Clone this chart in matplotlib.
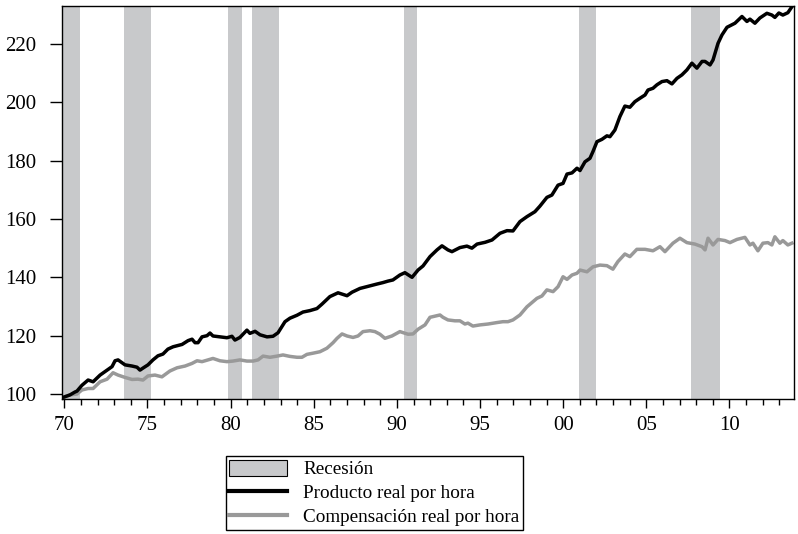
import matplotlib
matplotlib.use("Agg")
import matplotlib.pyplot as plt
from matplotlib.patches import Patch
from matplotlib.lines import Line2D
from matplotlib.ticker import FixedLocator, MultipleLocator

plt.rcParams['font.family'] = ['Liberation Serif', 'DejaVu Serif']

# Recession periods (start, end) in decimal years
rec_start = [1969.86, 1973.60, 1979.86, 1981.30, 1990.40, 2000.97, 2007.66]
rec_end   = [1970.94, 1975.20, 1980.70, 1982.90, 1991.20, 2002.00, 2009.45]

# Producto real por hora
prod_year = [1970.00, 1970.34, 1970.64, 1970.76, 1971.06, 1971.43, 1971.73, 1972.15, 1972.57, 1972.87,
             1973.05, 1973.23, 1973.65, 1974.07, 1974.37, 1974.55, 1974.73, 1975.03, 1975.33, 1975.63,
             1975.93, 1976.23, 1976.54, 1977.08, 1977.44, 1977.68, 1977.86, 1978.04, 1978.28, 1978.58,
             1978.76, 1978.94, 1979.36, 1979.78, 1980.08, 1980.26, 1980.56, 1980.98, 1981.16, 1981.47,
             1981.77, 1982.19, 1982.55, 1982.85, 1983.27, 1983.57, 1983.99, 1984.35, 1984.77, 1985.19,
             1985.49, 1985.97, 1986.46, 1987.00, 1987.30, 1987.78, 1988.38, 1988.80, 1989.16, 1989.46,
             1989.76, 1990.18, 1990.48, 1990.91, 1991.27, 1991.57, 1991.99, 1992.41, 1992.71, 1993.07,
             1993.31, 1993.79, 1994.21, 1994.51, 1994.82, 1995.30, 1995.72, 1996.20, 1996.62, 1996.98,
             1997.40, 1997.82, 1998.30, 1998.60, 1999.02, 1999.32, 1999.69, 1999.99, 2000.23, 2000.53,
             2000.83, 2001.01, 2001.31, 2001.61, 2001.79, 2002.03, 2002.33, 2002.63, 2002.81, 2003.11,
             2003.41, 2003.71, 2004.01, 2004.31, 2004.62, 2004.92, 2005.10, 2005.40, 2005.64, 2005.94,
             2006.24, 2006.54, 2006.84, 2007.14, 2007.44, 2007.74, 2008.04, 2008.35, 2008.53, 2008.83,
             2009.01, 2009.31, 2009.55, 2009.85, 2010.33, 2010.75, 2011.05, 2011.23, 2011.53, 2011.83,
             2012.25, 2012.55, 2012.73, 2012.97, 2013.21, 2013.51, 2013.75]
prod_val = [99.0, 99.7, 100.7, 101.0, 103.0, 104.8, 104.2, 106.5, 108.2, 109.4,
            111.4, 111.7, 110.0, 109.6, 109.2, 108.2, 108.9, 110.0, 111.7, 113.1,
            113.7, 115.4, 116.2, 117.0, 118.3, 118.8, 117.6, 117.6, 119.6, 120.0,
            120.9, 119.9, 119.6, 119.3, 119.8, 118.5, 119.4, 121.9, 120.8, 121.5,
            120.3, 119.6, 119.8, 121.0, 124.8, 126.0, 127.0, 128.1, 128.6, 129.3,
            130.8, 133.4, 134.7, 133.7, 134.9, 136.2, 137.1, 137.7, 138.2, 138.7,
            139.1, 140.8, 141.6, 140.0, 142.5, 143.9, 147.1, 149.4, 150.8, 149.4,
            148.8, 150.2, 150.7, 150.0, 151.4, 152.0, 152.8, 155.1, 156.0, 155.9,
            159.1, 160.8, 162.5, 164.4, 167.4, 168.2, 171.6, 172.2, 175.4, 175.8,
            177.4, 176.6, 179.6, 180.8, 183.1, 186.5, 187.3, 188.5, 188.2, 190.5,
            195.1, 198.7, 198.3, 200.2, 201.4, 202.5, 204.2, 204.8, 206.0, 207.1,
            207.4, 206.3, 208.2, 209.4, 211.1, 213.4, 211.7, 214.0, 214.0, 212.8,
            214.5, 220.2, 223.1, 225.7, 227.1, 229.4, 227.7, 228.5, 227.1, 228.9,
            230.5, 229.9, 229.1, 230.6, 229.9, 230.7, 232.7]

# Compensacion real por hora
comp_year = [1970.04, 1970.34, 1970.76, 1971.06, 1971.43, 1971.73, 1972.15, 1972.57, 1972.93, 1973.23,
             1973.65, 1974.07, 1974.43, 1974.73, 1975.03, 1975.45, 1975.87, 1976.35, 1976.78, 1977.26,
             1977.68, 1977.98, 1978.28, 1978.64, 1978.94, 1979.36, 1979.78, 1980.14, 1980.56, 1980.98,
             1981.35, 1981.65, 1981.95, 1982.37, 1982.79, 1983.15, 1983.57, 1983.99, 1984.29, 1984.59,
             1984.95, 1985.37, 1985.79, 1986.16, 1986.40, 1986.70, 1987.00, 1987.36, 1987.66, 1987.96,
             1988.38, 1988.68, 1988.98, 1989.28, 1989.70, 1990.18, 1990.67, 1990.97, 1991.27, 1991.69,
             1991.99, 1992.29, 1992.59, 1992.77, 1993.07, 1993.49, 1993.79, 1994.09, 1994.27, 1994.57,
             1995.00, 1995.48, 1996.02, 1996.38, 1996.68, 1996.98, 1997.40, 1997.82, 1998.42, 1998.72,
             1999.02, 1999.39, 1999.69, 1999.99, 2000.23, 2000.53, 2000.83, 2001.01, 2001.43, 2001.79,
             2002.21, 2002.63, 2002.99, 2003.29, 2003.71, 2004.01, 2004.43, 2004.92, 2005.40, 2005.82,
             2006.12, 2006.60, 2007.02, 2007.44, 2007.92, 2008.35, 2008.53, 2008.71, 2009.01, 2009.31,
             2009.73, 2010.03, 2010.45, 2010.93, 2011.23, 2011.41, 2011.71, 2012.01, 2012.31, 2012.55,
             2012.73, 2013.03, 2013.21, 2013.51, 2013.75]
comp_val = [99.1, 99.7, 100.0, 101.4, 101.9, 101.9, 104.2, 105.1, 107.3, 106.5,
            105.7, 105.0, 105.1, 104.8, 106.2, 106.5, 105.9, 107.9, 109.0, 109.6,
            110.5, 111.4, 111.1, 111.7, 112.2, 111.4, 111.1, 111.3, 111.7, 111.3,
            111.3, 111.7, 113.0, 112.6, 113.0, 113.4, 112.9, 112.6, 112.6, 113.6,
            114.0, 114.5, 115.7, 117.6, 119.1, 120.6, 119.9, 119.4, 119.9, 121.4,
            121.7, 121.4, 120.5, 119.1, 119.9, 121.4, 120.5, 120.6, 122.2, 123.7,
            126.3, 126.7, 127.1, 126.3, 125.4, 125.1, 125.1, 124.0, 124.3, 123.3,
            123.7, 124.0, 124.5, 124.8, 124.8, 125.4, 127.1, 129.9, 132.8, 133.6,
            135.7, 135.1, 136.8, 140.2, 139.3, 140.8, 141.4, 142.5, 141.9, 143.6,
            144.2, 144.0, 142.8, 145.4, 148.0, 147.1, 149.6, 149.6, 149.1, 150.5,
            148.8, 151.7, 153.4, 151.9, 151.4, 150.5, 149.4, 153.4, 151.1, 153.0,
            152.6, 151.9, 153.0, 153.7, 151.1, 151.7, 149.1, 151.7, 151.9, 151.1,
            153.9, 151.7, 152.6, 151.1, 151.7]

tick_years = [1970, 1975, 1980, 1985, 1990, 1995, 2000, 2005, 2010]
tick_labels = ["70", "75", "80", "85", "90", "95", "00", "05", "10"]
y_ticks = [100, 120, 140, 160, 180, 200, 220]

fig = plt.figure(figsize=(7.98, 5.34), dpi=100)
ax = fig.add_axes([62/798, 1 - 399/534, (794 - 62)/798, (399 - 6)/534])

rec_color = '#c8c9cb'
for s, e in zip(rec_start, rec_end):
    ax.axvspan(s, e, color=rec_color, lw=0, zorder=1)

ax.plot(prod_year, prod_val, color='black', lw=2.5, zorder=3, solid_joinstyle='round')
ax.plot(comp_year, comp_val, color='#999999', lw=2.5, zorder=2, solid_joinstyle='round')

ax.set_xlim(1969.86, 2013.88)
ax.set_ylim(98.3, 233.0)

ax.xaxis.set_major_locator(FixedLocator(tick_years))
ax.set_xticklabels(tick_labels)
ax.xaxis.set_minor_locator(MultipleLocator(1))
ax.set_yticks(y_ticks)

ax.tick_params(axis='x', which='major', direction='out', length=6.5, width=1, labelsize=15, pad=6, top=False)
ax.tick_params(axis='x', which='minor', direction='out', length=4, width=1, top=False)
ax.tick_params(axis='y', which='major', direction='out', length=8.6, width=1, labelsize=15, pad=10, right=False)
for sp in ax.spines.values():
    sp.set_linewidth(1.0)

handles = [Patch(facecolor=rec_color, edgecolor='black', linewidth=0.8),
           Line2D([], [], color='black', lw=3),
           Line2D([], [], color='#999999', lw=3)]
labels = ['Recesión', 'Producto real por hora', 'Compensación real por hora']
leg = fig.legend(handles, labels, loc='center',
                 bbox_to_anchor=((222 + 527) / 2 / 798, 1 - (456 + 530) / 2 / 534),
                 fontsize=13.8, frameon=True, fancybox=False, framealpha=1,
                 edgecolor='black', handlelength=3.0, handleheight=0.85,
                 labelspacing=0.28, borderpad=0.2, handletextpad=0.85,
                 borderaxespad=0)
leg.get_frame().set_linewidth(1.0)

fig.savefig('out.png', dpi=100)
